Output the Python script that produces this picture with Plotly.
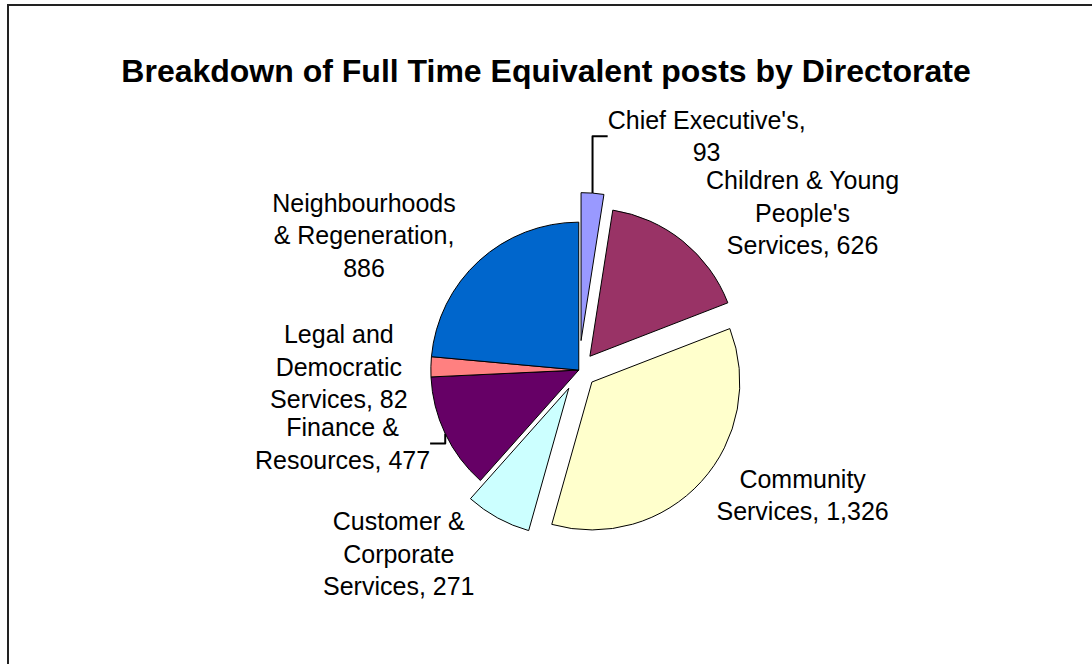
import plotly.graph_objects as go

# Data (clockwise from 12 o'clock)
categories = ["Chief Executive's", "Children & Young People's Services", "Community Services",
              "Customer & Corporate Services", "Finance & Resources",
              "Legal and Democratic Services", "Neighbourhoods & Regeneration"]
values = [93, 626, 1326, 271, 477, 82, 886]
# display wrapping of the labels (as in the reference)
label_wrapped = ["Chief Executive's", "Children & Young<br>People's<br>Services", "Community<br>Services",
                 "Customer &<br>Corporate<br>Services", "Finance &<br>Resources",
                 "Legal and<br>Democratic<br>Services", "Neighbourhoods<br>& Regeneration"]
value_sep = [",<br>", ", ", ", ", ", ", ", ", ", ", ",<br>"]
colors = ["#9999FF", "#993366", "#FFFFCC", "#CCFFFF", "#660066", "#FF8080", "#0066CC"]
pulls = [0.2, 0.12, 0.12, 0.14, 0, 0, 0]

texts = [f"{lab}{sep}{v:,}" for lab, sep, v in zip(label_wrapped, value_sep, values)]

font_family = "Liberation Sans, Arial"

fig = go.Figure(go.Pie(
    labels=categories,
    values=values,
    text=texts,
    textinfo="text",
    textposition="outside",
    sort=False,
    direction="clockwise",
    rotation=0,
    pull=pulls,
    marker=dict(colors=colors, line=dict(color="black", width=1)),
    textfont=dict(family=font_family, size=25, color="black"),
    outsidetextfont=dict(family=font_family, size=25, color="black"),
    domain=dict(x=[0.365, 0.695], y=[0.164, 0.706]),
    showlegend=False,
    hoverinfo="label+value",
))

fig.update_layout(
    width=1092, height=664,
    margin=dict(l=0, r=0, t=0, b=0),
    paper_bgcolor="white",
    plot_bgcolor="white",
    title=dict(text="<b>Breakdown of Full Time Equivalent posts by Directorate</b>",
               x=0.5, xanchor="center", y=1 - 71 / 664, yanchor="middle",
               font=dict(family=font_family, size=32, color="black")),
    shapes=[dict(type="rect", xref="paper", yref="paper",
                 x0=8 / 1092, x1=1.05, y0=-0.05, y1=1 - 5 / 664,
                 line=dict(color="#222222", width=2))],
)

fig.write_html("out.html")
